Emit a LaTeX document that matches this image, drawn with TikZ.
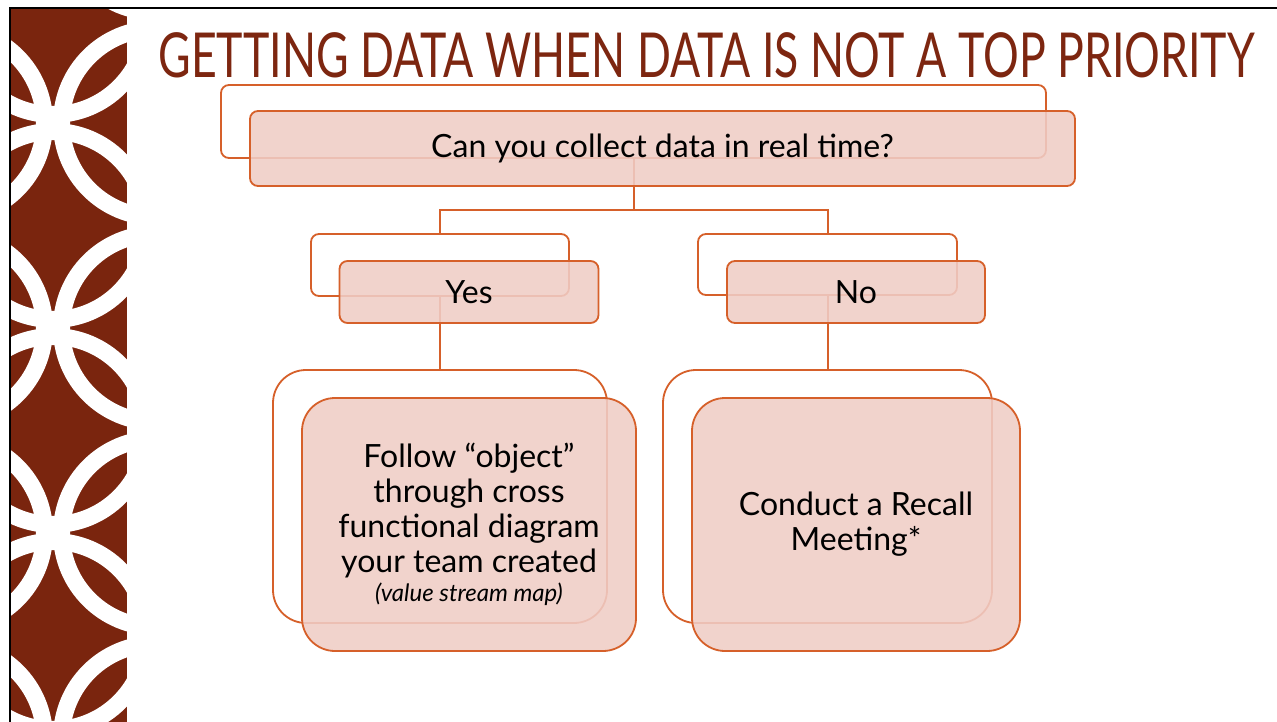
\documentclass[tikz,border=0pt]{standalone}
\usepackage{fontspec}
\setmainfont{Lato}
\usepackage{tikz}
\usetikzlibrary{positioning}

\definecolor{stripbrown}{RGB}{122,37,14}
\definecolor{titlebrown}{RGB}{125,38,16}
\definecolor{boxline}{RGB}{214,96,42}
\definecolor{boxfill}{RGB}{240,205,198}

\begin{document}
\begin{tikzpicture}[x=1pt,y=1pt,
    backbox/.style={rectangle,rounded corners=8pt,draw=boxline,line width=1.8pt,fill=white,inner sep=0pt},
    frontbox/.style={rectangle,rounded corners=8pt,draw=boxline,line width=1.8pt,fill=boxfill,fill opacity=0.88,text opacity=1,inner sep=0pt,align=center,font=\fontsize{32}{35}\selectfont},
    link/.style={draw=boxline,line width=2pt},
    ring/.style={draw=white,line width=17pt},
    slidetitle/.style={text=titlebrown,font=\fontsize{62}{70}\selectfont,xscale=0.72,transform shape,inner sep=0pt,anchor=base}
  ]
\useasboundingbox (0,0) rectangle (1277,-722);
\fill[white] (0,0) rectangle (1277,-722);
\begin{scope}
  \clip (11,-9) rectangle (127,-722);
  \fill[stripbrown] (11,-9) rectangle (127,-722);
  \foreach \k in {0,...,3}
    \draw[ring] (53,{-20.5-205*\k}) circle (94pt);
  \foreach \k in {-1,...,3}
    {
    \draw[ring] (-49.5,{-123-205*\k}) circle (94pt);
    \draw[ring] (155.5,{-123-205*\k}) circle (94pt);
    }
\end{scope}
\draw[line width=2.5pt] (10,-722) -- (10,-8) -- (1277,-8);

\node[slidetitle] (title) at (706.5,-78) {GETTING DATA WHEN DATA IS NOT A TOP PRIORITY};

\node[backbox,minimum width=825pt,minimum height=73pt] (qback) at (633.5,-121.5) {};
\node[backbox,minimum width=258pt,minimum height=62pt] (yesback) at (440,-265) {};
\node[backbox,minimum width=259pt,minimum height=61pt] (noback) at (827.5,-264.5) {};
\node[backbox,rounded corners=33pt,minimum width=334pt,minimum height=253pt] (followback) at (440,-496.5) {};
\node[backbox,rounded corners=33pt,minimum width=329pt,minimum height=253pt] (conductback) at (827.5,-496.5) {};

\coordinate (split) at (633.5,-210);
\draw[link] (qback.south) -- (split) -| (yesback.north);
\draw[link] (split) -| (noback.north);
\draw[link] (yesback.south) -- (followback.north);
\draw[link] (noback.south) -- (conductback.north);

\node[frontbox,minimum width=825pt,minimum height=75pt] (q) at (662.5,-148.5) {Can you collect data in real time?};
\node[frontbox,minimum width=259pt,minimum height=62pt] (yes) at (469,-292) {Yes};
\node[frontbox,minimum width=258pt,minimum height=62pt] (no) at (856,-292) {No};
\node[frontbox,rounded corners=33pt,minimum width=334pt,minimum height=253pt] (follow) at (469,-524.5)
  {Follow “object”\\through cross\\functional diagram\\your team created\\[-6pt]{\itshape\fontsize{24}{28}\selectfont (value stream map)}};
\node[frontbox,rounded corners=33pt,minimum width=328pt,minimum height=253pt] (conduct) at (856,-524.5)
  {Conduct a Recall\\Meeting*};
\end{tikzpicture}
\end{document}
